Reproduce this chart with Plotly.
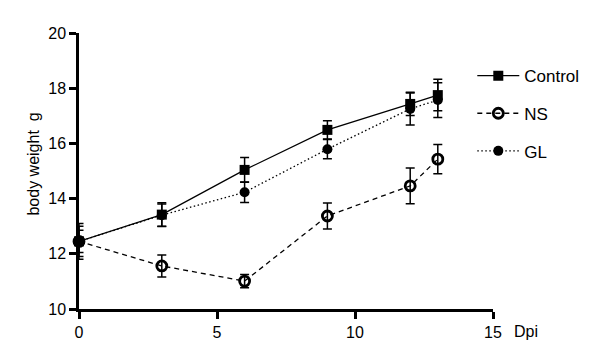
import plotly.graph_objects as go

days = [0, 3, 6, 9, 12, 13]
control = [12.45, 13.42, 15.04, 16.49, 17.43, 17.75]
control_err = [0.55, 0.43, 0.45, 0.33, 0.42, 0.57]
ns = [12.45, 11.56, 11.01, 13.37, 14.46, 15.43]
ns_err = [0.4, 0.4, 0.24, 0.47, 0.65, 0.53]
gl = [12.45, 13.4, 14.23, 15.79, 17.25, 17.57]
gl_err = [0.65, 0.4, 0.37, 0.35, 0.58, 0.63]

x_ticks = [0, 5, 10, 15]
y_ticks = [10, 12, 14, 16, 18, 20]

FONT = "Liberation Sans, Arial, sans-serif"

fig = go.Figure()

def add(name, y, err, dash, symbol, msize, mline):
    fig.add_trace(go.Scatter(
        x=days, y=y, name=name, mode="lines+markers", legendgroup=name,
        line=dict(color="black", width=1.3, dash=dash),
        marker=dict(symbol=symbol, size=msize, color="black",
                    line=dict(color="black", width=mline)),
        error_y=dict(type="data", array=err, visible=True,
                     color="black", thickness=1.5, width=4.5),
        cliponaxis=False,
    ))

add("Control", control, control_err, "solid", "square", 10, 0)
add("NS", ns, ns_err, "5px,4px", "circle-open", 10, 2.8)
add("GL", gl, gl_err, "1.5px,2.5px", "circle", 10, 0)

fig.update_layout(
    width=600, height=355,
    margin=dict(l=79, r=107, t=33, b=46),
    paper_bgcolor="white", plot_bgcolor="white",
    font=dict(family=FONT, size=16, color="black"),
    showlegend=True,
    legend=dict(x=0.950, y=0.909, xanchor="left", yanchor="top",
                font=dict(size=17, family=FONT, color="black"),
                itemwidth=42, tracegroupgap=12.5,
                bgcolor="rgba(0,0,0,0)"),
    xaxis=dict(range=[0, 15], tickvals=x_ticks, showgrid=False, zeroline=False,
               showline=True, linecolor="black", linewidth=2.5,
               ticks="outside", ticklen=7, tickwidth=2.5, tickcolor="black",
               tickfont=dict(size=16, family=FONT)),
    yaxis=dict(range=[10, 20], tickvals=y_ticks, showgrid=False, zeroline=False,
               showline=True, linecolor="black", linewidth=2.5,
               ticks="outside", ticklen=7, tickwidth=2.5, tickcolor="black",
               tickfont=dict(size=16, family=FONT)),
)

fig.add_annotation(text="body weight\u00a0\u00a0g", xref="paper", yref="paper",
                   x=-0.11, y=0.525, xanchor="center", yanchor="middle",
                   textangle=-90, showarrow=False,
                   font=dict(size=16, family=FONT, color="black"))

fig.add_annotation(text="Dpi", xref="paper", yref="paper", x=1.045, y=-0.045,
                   xanchor="left", yanchor="top", showarrow=False,
                   font=dict(size=16, family=FONT, color="black"))

fig.write_html("out.html")
